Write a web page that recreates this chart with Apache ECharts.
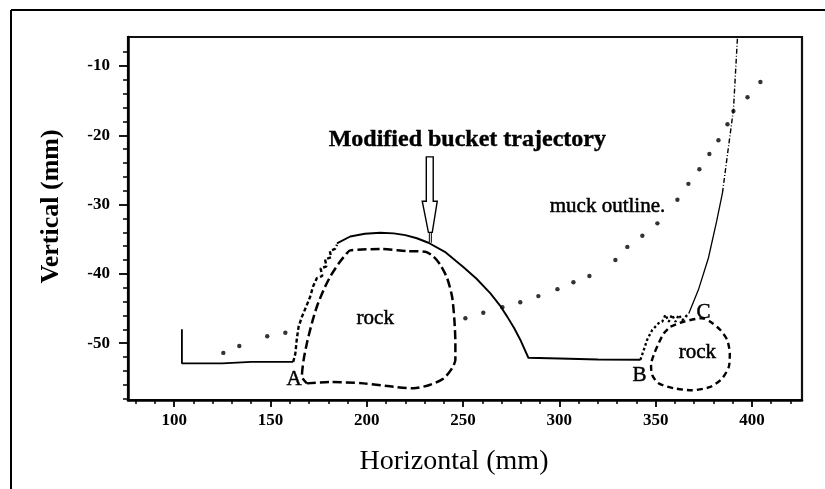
<!DOCTYPE html>
<html>
<head>
<meta charset="utf-8">
<script src="https://cdn.jsdelivr.net/npm/echarts@6/dist/echarts.min.js"></script>
<style>
  html, body { margin: 0; padding: 0; background: #fff; }
  #chart { width: 825px; height: 489px; }
</style>
</head>
<body>
<div id="chart"></div>
<script>
// Axis tick labels
const xTickLabels = [100, 150, 200, 250, 300, 350, 400];
const yTickLabels = [-50, -40, -30, -20, -10];

// Bucket trajectory, split by drawing style
const bucketApproach = [[104.0, -48.0], [104.0, -52.9], [125.0, -52.9], [140.0, -52.7], [161.8, -52.7]];
const bucketClimbA = [[161.8, -52.7], [162.9, -51.5], [163.7, -49.3], [164.6, -47.6], [166.3, -46.2], [168.1, -45.0],
  [170.6, -43.3], [172.1, -41.8], [174.1, -40.6], [176.9, -40.3], [176.0, -39.2], [179.1, -38.9], [178.3, -37.9],
  [181.5, -37.6], [180.8, -36.7], [183.5, -36.4], [184.5, -35.8]];
const bucketArc = [[184.5, -35.6], [191.4, -34.6], [199.0, -34.2], [207.0, -34.05], [214.0, -34.15], [220.0, -34.4],
  [226.0, -34.85], [232.0, -35.5], [241.0, -36.9], [250.1, -39.0], [257.0, -40.7], [264.2, -42.8], [269.0, -44.5],
  [273.0, -46.2], [276.5, -47.8], [279.7, -49.5], [283.9, -52.1], [300.0, -52.2], [320.0, -52.35], [342.1, -52.4]];
const bucketClimbB = [[342.1, -52.4], [343.8, -51.0], [345.6, -49.5], [348.2, -48.1], [351.6, -47.1], [353.4, -46.9],
  [355.1, -45.9], [356.8, -46.9], [358.5, -45.9], [360.3, -46.9], [362.0, -45.9], [363.8, -46.7], [365.5, -46.2],
  [367.2, -45.7]];
const bucketExit = [[367.2, -45.7], [372.2, -42.3], [377.4, -37.7], [381.6, -32.5], [384.7, -28.3]];
const bucketExitUpper = [[384.7, -28.3], [387.8, -21.7], [390.4, -16.3], [392.5, -5.8]];

// Muck surface points
const muckOutline = [[125.5, -51.4], [133.8, -50.4], [148.3, -49.0], [157.7, -48.5], [251.2, -46.4], [260.5, -45.6],
  [270.4, -44.8], [279.7, -44.1], [289.1, -43.2], [299.0, -42.2], [307.3, -41.2], [315.6, -40.3], [329.1, -38.0],
  [335.3, -36.1], [343.1, -34.5], [350.9, -32.7], [361.3, -29.3], [367.0, -27.0], [372.7, -24.9], [377.9, -22.7],
  [382.6, -20.7], [387.3, -18.4], [390.4, -16.5], [397.7, -14.5], [404.4, -12.3]];

// Rock outlines (closed)
const rockA = [[168.9, -55.8], [181.0, -55.6], [198.3, -55.8], [213.9, -56.3], [224.3, -56.5], [233.0, -56.0],
  [239.9, -55.1], [244.3, -53.6], [246.0, -52.4], [246.0, -50.0], [245.5, -46.7], [244.3, -43.3], [241.7, -40.6],
  [238.2, -38.7], [234.7, -37.5], [230.4, -36.8], [220.9, -36.7], [207.0, -36.4], [191.4, -36.6], [189.7, -37.0],
  [185.4, -38.5], [181.0, -40.4], [177.6, -42.3], [174.1, -44.7], [171.5, -47.1], [168.9, -50.0], [167.2, -52.4],
  [166.3, -54.8], [168.9, -55.8]];
const rockB = [[357.7, -47.6], [364.4, -46.9], [374.1, -46.4], [378.4, -46.9], [383.6, -48.1], [387.1, -49.5],
  [388.5, -51.5], [388.0, -53.4], [384.5, -55.1], [378.4, -56.3], [368.9, -56.8], [359.4, -56.5], [351.6, -55.8],
  [348.2, -54.6], [347.6, -53.1], [349.0, -51.7], [351.6, -50.0], [354.2, -48.6], [357.7, -47.6]];

// Text annotations placed in data space
const annotations = [
  { name: 'rock', value: [204.4, -46.4] },
  { name: 'rock', value: [371.7, -51.4] },
  { name: 'A', value: [162.3, -55.3] },
  { name: 'B', value: [341.6, -54.6] },
  { name: 'C', value: [374.8, -45.5] },
  { name: 'muck outline.', value: [325.0, -30.3] }
];
const headline = [{ name: 'Modified bucket trajectory', value: [252.2, -20.7] }];

// Hollow arrow pointing at the trajectory
const arrowShape = [[230.9, -23.1], [234.5, -23.1], [234.5, -29.5], [236.6, -29.5], [234.0, -34.0], [232.0, -34.0],
  [228.8, -29.5], [230.9, -29.5]];
const arrowStem = [[233.0, -34.0], [233.0, -35.5]];

const X_MIN = 76, X_MAX = 426;
const Y_MIN = -58.2, Y_MAX = -5.8;

function minorTicks(from, to, step, majors) {
  const out = [];
  for (let v = from; v <= to + 1e-9; v += step) {
    const r = Math.round(v * 10) / 10;
    if (majors.indexOf(r) < 0) out.push(r);
  }
  return out;
}
const xMinor = minorTicks(80, 420, 10, xTickLabels);
const yMinor = minorTicks(-58, -8, 2, yTickLabels);

const SERIF = '"Liberation Serif", "DejaVu Serif", serif';
const INK = '#000';

const chart = echarts.init(document.getElementById('chart'), null, { renderer: 'canvas' });

function lineSeries(data, opts) {
  return Object.assign({
    type: 'line',
    data: data,
    showSymbol: false,
    symbol: 'none',
    silent: true,
    animation: false,
    xAxisIndex: 0,
    yAxisIndex: 0,
    clip: true,
    lineStyle: { color: INK, width: 1.8, type: 'solid' }
  }, opts);
}

chart.setOption({
  backgroundColor: '#fff',
  animation: false,
  graphic: [
    { type: 'line', shape: { x1: 11, y1: 10, x2: 825, y2: 10 }, style: { stroke: '#000', lineWidth: 2 } },
    { type: 'line', shape: { x1: 11, y1: 10, x2: 11, y2: 489 }, style: { stroke: '#000', lineWidth: 2 } }
  ],
  grid: {
    left: 128, right: 23, top: 37, bottom: 89,
    show: true, borderColor: '#111', borderWidth: 2.2, backgroundColor: 'transparent'
  },
  xAxis: [
    {
      type: 'value', min: X_MIN, max: X_MAX, position: 'bottom',
      name: 'Horizontal (mm)', nameLocation: 'middle', nameGap: 48,
      nameTextStyle: { fontFamily: SERIF, fontSize: 28, color: INK, padding: [0, 22, 0, 0] },
      axisLine: { show: true, onZero: false, lineStyle: { color: INK, width: 2.5 } },
      axisTick: { show: true, customValues: xTickLabels, length: 7, lineStyle: { color: INK, width: 1.8 } },
      axisLabel: { show: true, customValues: xTickLabels, margin: 12, fontFamily: SERIF, fontSize: 17,
        fontWeight: 'bold', color: INK },
      splitLine: { show: false }
    },
    {
      type: 'value', min: X_MIN, max: X_MAX, position: 'bottom',
      axisLine: { show: false, onZero: false },
      axisTick: { show: true, customValues: xMinor, length: 4, lineStyle: { color: INK, width: 1.5 } },
      axisLabel: { show: false },
      splitLine: { show: false }
    }
  ],
  yAxis: [
    {
      type: 'value', min: Y_MIN, max: Y_MAX, position: 'left',
      name: 'Vertical (mm)', nameLocation: 'middle', nameGap: 64, nameRotate: 90,
      nameTextStyle: { fontFamily: SERIF, fontSize: 26, fontWeight: 'bold', color: INK, padding: [0, 0, 0, 24] },
      axisLine: { show: true, onZero: false, lineStyle: { color: INK, width: 2.5 } },
      axisTick: { show: true, customValues: yTickLabels, length: 9, lineStyle: { color: INK, width: 1.8 } },
      axisLabel: { show: true, customValues: yTickLabels, margin: 18, fontFamily: SERIF, fontSize: 17,
        fontWeight: 'bold', color: INK },
      splitLine: { show: false }
    },
    {
      type: 'value', min: Y_MIN, max: Y_MAX, position: 'left',
      axisLine: { show: false, onZero: false },
      axisTick: { show: true, customValues: yMinor, length: 5, lineStyle: { color: INK, width: 1.5 } },
      axisLabel: { show: false },
      splitLine: { show: false }
    }
  ],
  series: [
    lineSeries(bucketApproach, { name: 'approach', lineStyle: { color: INK, width: 1.8 } }),
    lineSeries(bucketClimbA, { name: 'climb A', lineStyle: { color: INK, width: 2.4, type: [4, 2.5] } }),
    lineSeries(bucketArc, { name: 'bucket trajectory', lineStyle: { color: INK, width: 1.9 } }),
    lineSeries(bucketClimbB, { name: 'climb B', lineStyle: { color: INK, width: 2.3, type: [2.5, 2.5] } }),
    lineSeries(bucketExit, { name: 'exit', lineStyle: { color: INK, width: 1.3 } }),
    lineSeries(bucketExitUpper, { name: 'exit upper', lineStyle: { color: INK, width: 1.4, type: [5, 2, 1, 2] } }),
    lineSeries(rockA, { name: 'rock A', smooth: 0.25, lineStyle: { color: INK, width: 2.5, type: [9, 4] } }),
    lineSeries(rockB, { name: 'rock B', smooth: 0.25, lineStyle: { color: INK, width: 2.4, type: [6, 4] } }),
    {
      type: 'scatter', name: 'muck outline', data: muckOutline, symbol: 'circle', symbolSize: 4.4,
      itemStyle: { color: INK }, silent: true, animation: false
    },
    {
      type: 'custom', name: 'arrow', data: [[0]], silent: true, animation: false, clip: false,
      renderItem: function (params, api) {
        const pts = arrowShape.map(function (p) { return api.coord(p); });
        const a = api.coord(arrowStem[0]);
        const b = api.coord(arrowStem[1]);
        return {
          type: 'group',
          children: [
            { type: 'polygon', shape: { points: pts }, style: { fill: '#fff', stroke: INK, lineWidth: 1.4 } },
            { type: 'line', shape: { x1: a[0] - 1, y1: a[1], x2: a[0] - 1, y2: b[1] }, style: { stroke: INK, lineWidth: 1 } },
            { type: 'line', shape: { x1: a[0] + 1, y1: a[1], x2: a[0] + 1, y2: b[1] }, style: { stroke: INK, lineWidth: 1 } }
          ]
        };
      }
    },
    {
      type: 'scatter', name: 'labels', data: annotations, symbolSize: 0, silent: true, animation: false,
      itemStyle: { color: INK, opacity: 1 },
      label: {
        show: true, position: 'inside', formatter: '{b}', color: INK, opacity: 1,
        fontFamily: SERIF, fontSize: 21, textBorderColor: INK, textBorderWidth: 0.5
      },
      labelLayout: { hideOverlap: false }
    },
    {
      type: 'scatter', name: 'headline', data: headline, symbolSize: 0, silent: true, animation: false,
      itemStyle: { color: INK, opacity: 1 },
      label: {
        show: true, position: 'inside', formatter: '{b}', color: INK, opacity: 1,
        fontFamily: SERIF, fontSize: 24, fontWeight: 'bold', textBorderColor: INK, textBorderWidth: 0.4
      }
    }
  ]
});
</script>
</body>
</html>
